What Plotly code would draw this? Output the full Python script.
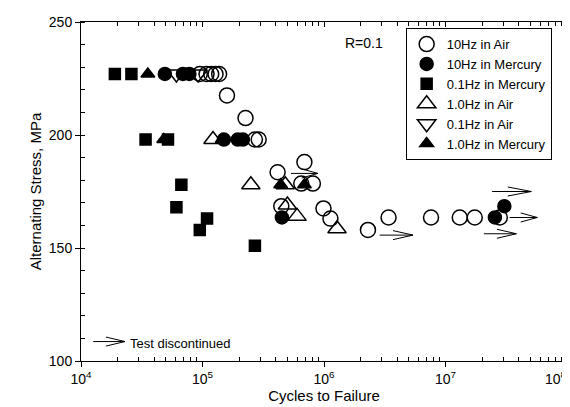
import plotly.graph_objects as go
import numpy as np

# ---- data (cycles to failure, alternating stress MPa) ----
air10_N = [9.5e4, 1.08e5, 1.18e5, 1.28e5, 1.37e5, 1.59e5, 2.26e5, 2.7e5, 2.9e5,
           4.15e5, 6.9e5, 4.45e5, 6.5e5, 8.1e5, 9.9e5, 1.13e6, 2.3e6, 3.4e6,
           7.6e6, 1.31e7, 1.74e7, 2.8e7]
air10_S = [227, 227, 227, 227, 227, 217.5, 207.5, 198, 198,
           183.5, 188, 168.5, 178.5, 178.5, 167.5, 163, 158, 163.5,
           163.5, 163.5, 163.5, 163.5]

hg10_N = [4.9e4, 6.9e4, 7.8e4, 1.5e5, 1.95e5, 2.15e5, 4.5e5, 2.55e7, 3.05e7]
hg10_S = [227, 227, 227, 198, 198, 198, 163.5, 163.5, 168.5]

hg01_N = [1.9e4, 2.6e4, 3.4e4, 5.2e4, 6.7e4, 6.1e4, 1.09e5, 9.5e4, 2.7e5]
hg01_S = [227, 227, 198, 198, 178, 168, 163, 158, 151]

air1_N = [1.22e5, 2.5e5, 4.8e5, 5.0e5, 6.0e5, 1.28e6]
air1_S = [198, 178, 178, 169, 164, 158.5]

air01_N = [6.1e4, 9.2e4]
air01_S = [227, 227]

hg1_N = [3.55e4, 4.8e4, 1.45e5, 4.4e5, 6.9e5]
hg1_S = [227, 198, 198, 178, 178]

# run-out arrows: (start cycles, tip cycles, stress)
arrow_start = [5.35e5, 2.87e6, 2.42e7, 3.37e7, 2.07e7]
arrow_end = [8.9e5, 5.4e6, 5.08e7, 5.7e7, 3.83e7]
arrow_S = [183, 155.7, 175, 163.5, 156.3]

# legend key arrow
key_start, key_end, key_S = 1.26e4, 2.3e4, 108.6

x_tick_vals = [1e4, 1e5, 1e6, 1e7, 1e8]
x_tick_text = ["10<sup>4</sup>", "10<sup>5</sup>", "10<sup>6</sup>", "10<sup>7</sup>", ""]
last_tick_label = "10<sup>8</sup>"
y_tick_vals = [100, 150, 200, 250]

FONT = "Liberation Sans, Arial, sans-serif"


def arrow_xy(starts, ends, ys, head_frac=0.6, half_h=2.0):
    xs, yy = [], []
    for a, b, s in zip(starts, ends, ys):
        la, lb = np.log10(a), np.log10(b)
        hb = 10 ** (lb - head_frac * (lb - la))
        xs += [a, b, None, hb, b, hb, None]
        yy += [s, s, None, s + half_h, s, s - half_h, None]
    return xs, yy


fig = go.Figure()

series = [
    ("10Hz in Air", air10_N, air10_S, "circle-open", 15),
    ("10Hz in Mercury", hg10_N, hg10_S, "circle", 13),
    ("0.1Hz in Mercury", hg01_N, hg01_S, "square", 11),
    ("1.0Hz in Air", air1_N, air1_S, "triangle-up-open", 16),
    ("0.1Hz in Air", air01_N, air01_S, "triangle-down-open", 16),
    ("1.0Hz in Mercury", hg1_N, hg1_S, "triangle-up", 12),
]
for i, (name, xs, ys, sym, sz) in enumerate(series):
    fig.add_trace(go.Scatter(
        x=xs, y=ys, mode="markers", name=name, legendgroup=f"g{i}",
        marker=dict(symbol=sym, size=sz, color="black",
                    line=dict(color="black", width=1.5)),
    ))

ax_, ay_ = arrow_xy(arrow_start, arrow_end, arrow_S)
fig.add_trace(go.Scatter(x=ax_, y=ay_, mode="lines", showlegend=False,
                         line=dict(color="black", width=1), hoverinfo="skip"))
kx, ky = arrow_xy([key_start], [key_end], [key_S])
fig.add_trace(go.Scatter(x=kx, y=ky, mode="lines", showlegend=False,
                         line=dict(color="black", width=1), hoverinfo="skip"))
# dummy trace for mirrored axes
fig.add_trace(go.Scatter(x=[], y=[], xaxis="x2", yaxis="y2", showlegend=False))

minor_x = [k * 10 ** d for d in range(4, 8) for k in range(2, 10)]

fig.update_layout(
    width=570, height=407,
    margin=dict(l=73, r=11, t=14, b=54),
    paper_bgcolor="white", plot_bgcolor="white",
    font=dict(family=FONT, size=14, color="black"),
    showlegend=True,
    legend=dict(x=0.668, y=0.982, xanchor="left", yanchor="top",
                bordercolor="black", borderwidth=1, bgcolor="white",
                font=dict(size=13), tracegroupgap=0),
    xaxis=dict(type="log", range=[4, 8], tickmode="array", automargin=False,
               tickvals=x_tick_vals, ticktext=x_tick_text,
               ticks="outside", ticklen=5, tickcolor="black",
               showline=True, linecolor="black", linewidth=1,
               showgrid=False, zeroline=False,
               minor=dict(tickmode="array", tickvals=minor_x, ticks="inside",
                          ticklen=4, tickcolor="black", showgrid=False),
               title=dict(text="Cycles to Failure", font=dict(size=15), standoff=4),
               tickfont=dict(size=14)),
    yaxis=dict(range=[100, 250], tickmode="array", tickvals=y_tick_vals,
               automargin=False,
               ticks="outside", ticklen=5, tickcolor="black",
               showline=True, linecolor="black", linewidth=1,
               showgrid=False, zeroline=False,
               minor=dict(dtick=10, ticks="inside", ticklen=4,
                          tickcolor="black", showgrid=False),
               title=dict(text="Alternating Stress, MPa", font=dict(size=15), standoff=3),
               tickfont=dict(size=14)),
    xaxis2=dict(type="log", range=[4, 8], overlaying="x", side="top", anchor="y2",
                automargin=False,
                tickmode="array", tickvals=x_tick_vals, showticklabels=False,
                ticks="inside", ticklen=5, tickcolor="black",
                showline=True, linecolor="black", linewidth=1, showgrid=False,
                minor=dict(tickmode="array", tickvals=minor_x, ticks="inside",
                           ticklen=4, tickcolor="black", showgrid=False)),
    yaxis2=dict(range=[100, 250], overlaying="y", side="right", anchor="x2",
                automargin=False,
                tickmode="array", tickvals=y_tick_vals, showticklabels=False,
                ticks="inside", ticklen=5, tickcolor="black",
                showline=True, linecolor="black", linewidth=1, showgrid=False,
                zeroline=False,
                minor=dict(dtick=10, ticks="inside", ticklen=4,
                           tickcolor="black", showgrid=False)),
    annotations=[
        dict(text="R=0.1", x=0.582, y=0.938, xref="paper", yref="paper",
             xanchor="center", yanchor="middle",
             showarrow=False, font=dict(size=14)),
        dict(text="Test discontinued", x=0.097, y=0.053, xref="paper", yref="paper",
             xanchor="left", yanchor="middle", showarrow=False, font=dict(size=13)),
        dict(text=last_tick_label, x=1.004, y=0, xref="paper", yref="paper",
             xanchor="right", yanchor="top", yshift=-6,
             showarrow=False, font=dict(size=14)),
    ],
)

fig.write_html("out.html")
